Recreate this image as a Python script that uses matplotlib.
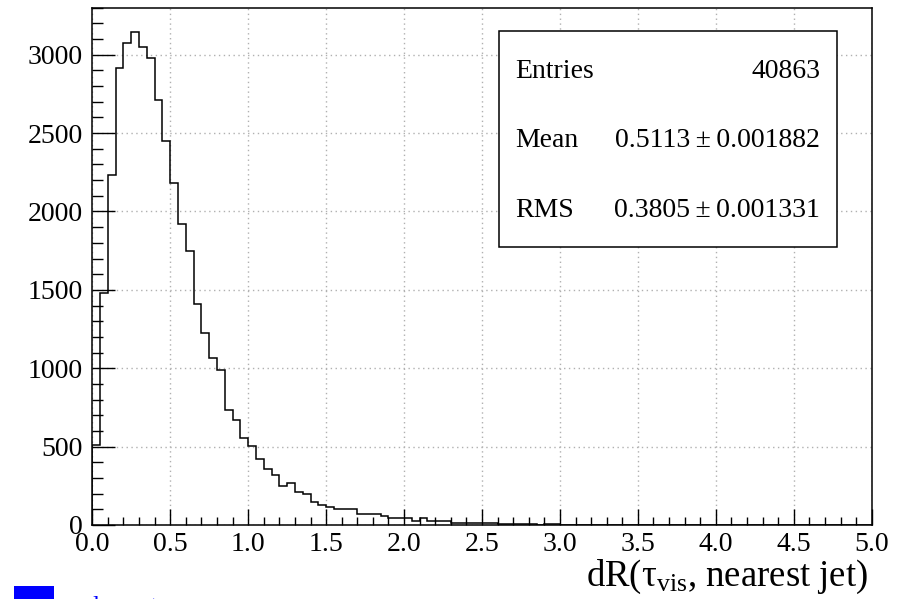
import numpy as np
import matplotlib
matplotlib.use("Agg")
import matplotlib.pyplot as plt
from matplotlib.patches import Rectangle
from matplotlib.ticker import MultipleLocator, FixedLocator

plt.rcParams['font.family'] = ['Liberation Serif', 'DejaVu Serif']
plt.rcParams['mathtext.fontset'] = 'custom'
plt.rcParams['mathtext.rm'] = 'Liberation Serif'
plt.rcParams['mathtext.it'] = 'Liberation Serif:italic'

# ---- data ----
bin_lo, bin_hi, n_bins = 0.0, 5.0, 100
counts = [
    511, 1481, 2233, 2914, 3075, 3144, 3048, 2981, 2711, 2451,
    2180, 1918, 1747, 1407, 1226, 1063, 987, 731, 671, 552,
    501, 420, 358, 318, 246, 267, 208, 196, 145, 126,
    115, 102, 100, 99, 72, 70, 69, 59, 44, 43,
    42, 27, 43, 28, 27, 26, 15, 14, 12, 12,
    11, 10, 6, 5, 5, 4, 4, 3, 8, 7,
    3, 2, 2, 1, 0, 0, 0, 0, 0, 0,
    0, 0, 0, 0, 0, 0, 0, 0, 0, 0,
    0, 0, 0, 0, 0, 0, 0, 0, 0, 0,
    0, 0, 0, 0, 0, 0, 0, 0, 0, 0,
]
x_ticks = [0.0, 0.5, 1.0, 1.5, 2.0, 2.5, 3.0, 3.5, 4.0, 4.5, 5.0]
x_tick_labels = ["0.0", "0.5", "1.0", "1.5", "2.0", "2.5", "3.0", "3.5", "4.0", "4.5", "5.0"]
y_ticks = [0, 500, 1000, 1500, 2000, 2500, 3000]
y_tick_labels = ["0", "500", "1000", "1500", "2000", "2500", "3000"]
stat_names = ["Entries", "Mean", "RMS"]
stat_values = ["40863", "0.5113\u2009\u00b1\u20090.001882", "0.3805\u2009\u00b1\u20090.001331"]
x_label = r"dR($\mathrm{\tau_{vis}}$, nearest jet)"
legend_text = "lowest"

edges = np.linspace(bin_lo, bin_hi, n_bins + 1)

W, H = 906, 599
fig = plt.figure(figsize=(W / 100, H / 100), dpi=100)
ax_l, ax_r, ax_t, ax_b = 92.3, 871.7, 7.5, 525.0
ax = fig.add_axes([ax_l / W, 1 - ax_b / H, (ax_r - ax_l) / W, (ax_b - ax_t) / H])

ax.stairs(counts, edges, color='black', lw=1.1, baseline=0)
ax.set_xlim(bin_lo, bin_hi)
ax.set_ylim(0, 1.05 * max(counts))

ax.xaxis.set_major_locator(FixedLocator(x_ticks))
ax.set_xticklabels(x_tick_labels)
ax.xaxis.set_minor_locator(MultipleLocator(0.1))
ax.yaxis.set_major_locator(FixedLocator(y_ticks))
ax.set_yticklabels(y_tick_labels)
ax.yaxis.set_minor_locator(MultipleLocator(100))

ax.tick_params(axis='both', which='both', direction='in', color='black', width=1.0, labelsize=20)
ax.tick_params(axis='y', which='major', length=16.5, pad=7)
ax.tick_params(axis='y', which='minor', length=8)
ax.tick_params(axis='x', which='major', length=11.5, pad=5)
ax.tick_params(axis='x', which='minor', length=6)
ax.tick_params(top=False, right=False, which='both')

ax.grid(True, which='major', color='#b0b0b0', linestyle=(0, (1, 2.5)), linewidth=1.0)
ax.set_axisbelow(True)
for s in ax.spines.values():
    s.set_color('black')
    s.set_linewidth(1.1)

# stats box
bx0, bx1, by0, by1 = 499, 837, 31, 247
fig.patches.append(Rectangle((bx0 / W, 1 - by1 / H), (bx1 - bx0) / W, (by1 - by0) / H,
                             transform=fig.transFigure, facecolor='white',
                             edgecolor='black', lw=1.1, zorder=5))
row_y = [71, 141, 211]
for name, val, yy in zip(stat_names, stat_values, row_y):
    fig.text(515 / W, 1 - yy / H, name, ha='left', va='center', fontsize=20, zorder=6,
             family=['Liberation Serif', 'DejaVu Serif'])
    fig.text(820 / W, 1 - yy / H, val, ha='right', va='center', fontsize=20, zorder=6,
             family=['Liberation Serif', 'DejaVu Serif'])

# x axis label
fig.text(868 / W, 1 - 577 / H, x_label, ha='right', va='center', fontsize=26.5)

# partially visible legend at the bottom
fig.patches.append(Rectangle((14 / W, -0.03), 40 / W, 0.03 + 1 - 586 / H,
                             transform=fig.transFigure, facecolor='#0000ff',
                             edgecolor='none'))
fig.text(92 / W, 1 - 613 / H, legend_text, ha='left', va='baseline', fontsize=18, color='#0000ff')

fig.savefig("out.png", dpi=100)
